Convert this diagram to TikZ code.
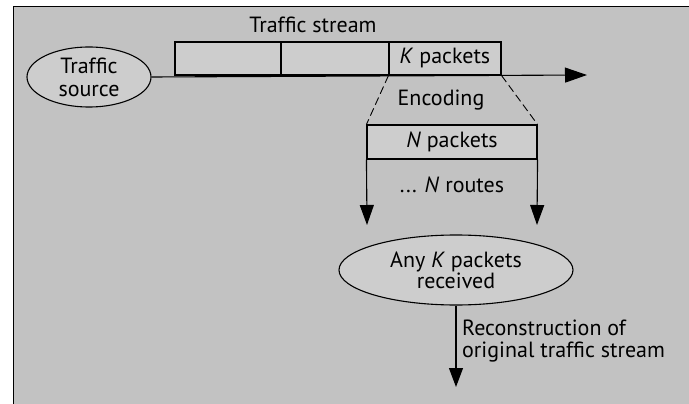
\documentclass[tikz,border=0pt]{standalone}
\usepackage{fontspec}
\setmainfont{PT Sans}
\usetikzlibrary{arrows.meta,shapes.geometric}
\definecolor{panel}{HTML}{C2C2C2}
\definecolor{shapefill}{HTML}{CDCDCD}
\tikzset{
  lbl/.style={font=\fontsize{22}{22}\selectfont, inner sep=0pt},
  blob/.style={ellipse, draw, line width=1.1pt, fill=shapefill, inner sep=0pt,
    align=center, font=\fontsize{22}{23}\selectfont},
  cell/.style={draw, line width=1.1pt, fill=shapefill, inner sep=0pt,
    font=\fontsize{22}{22}\selectfont},
  flow/.style={line width=1.1pt, -{Triangle[length=20pt,width=14pt]}},
  fan/.style={line width=0.9pt, dash pattern=on 8pt off 4pt},
}
\begin{document}
\begin{tikzpicture}[x=1pt, y=-1pt]
\useasboundingbox (0,0) rectangle (689,404);
\fill[white] (0,0) rectangle (689,404);
% shaded panel, framed on its top and left edges
\filldraw[fill=panel, draw=black, line width=1pt] (13,7) rectangle (692,407);

% source
\node[blob, minimum width=124pt, minimum height=60pt] (src) at (89,77) {Traffic\\source};

% traffic stream cells
\node[cell, minimum width=106pt, minimum height=33pt] (c1) at (228,58.5) {};
\node[cell, minimum width=108pt, minimum height=33pt] (c2) at (335,58.5) {};
\node[cell, minimum width=112pt, minimum height=33pt] (kbox) at (445,58.5) {\textit{K} packets};
\node[lbl] (tstream) at (313,25) {Traffic stream};

% stream line with arrow
\coordinate (streamend) at (587,75);
\draw[line width=1.1pt, -{Triangle[length=22pt,width=15pt]}] (src.east) -- (streamend);

% encoding
\node[lbl] (enc) at (441,100) {Encoding};
\node[cell, minimum width=170pt, minimum height=34pt] (nbox) at (452,142) {\textit{N} packets};
\draw[fan] (kbox.south west) -- (nbox.north west);
\draw[fan] (kbox.south east) -- (nbox.north east);

% routes
\node[lbl] (routes) at (452,185) {... \textit{N} routes};
\coordinate (lend) at (367,225);
\coordinate (rend) at (537,225);
\draw[flow] (nbox.south west) -- (lend);
\draw[flow] (nbox.south east) -- (rend);

% receiver
\node[blob, minimum width=234pt, minimum height=70pt, font=\fontsize{22}{20}\selectfont] (recv) at (456,270) {Any \textit{K} packets\\received};

% reconstruction
\coordinate (outend) at (456,387);
\draw[line width=1.1pt, -{Triangle[length=19pt,width=14pt]}] (recv.south) -- (outend);
\node[lbl, anchor=west, align=left, font=\fontsize{22}{22}\selectfont] (recon) at (462,341) {Reconstruction of\\original traffic stream};
\end{tikzpicture}
\end{document}
